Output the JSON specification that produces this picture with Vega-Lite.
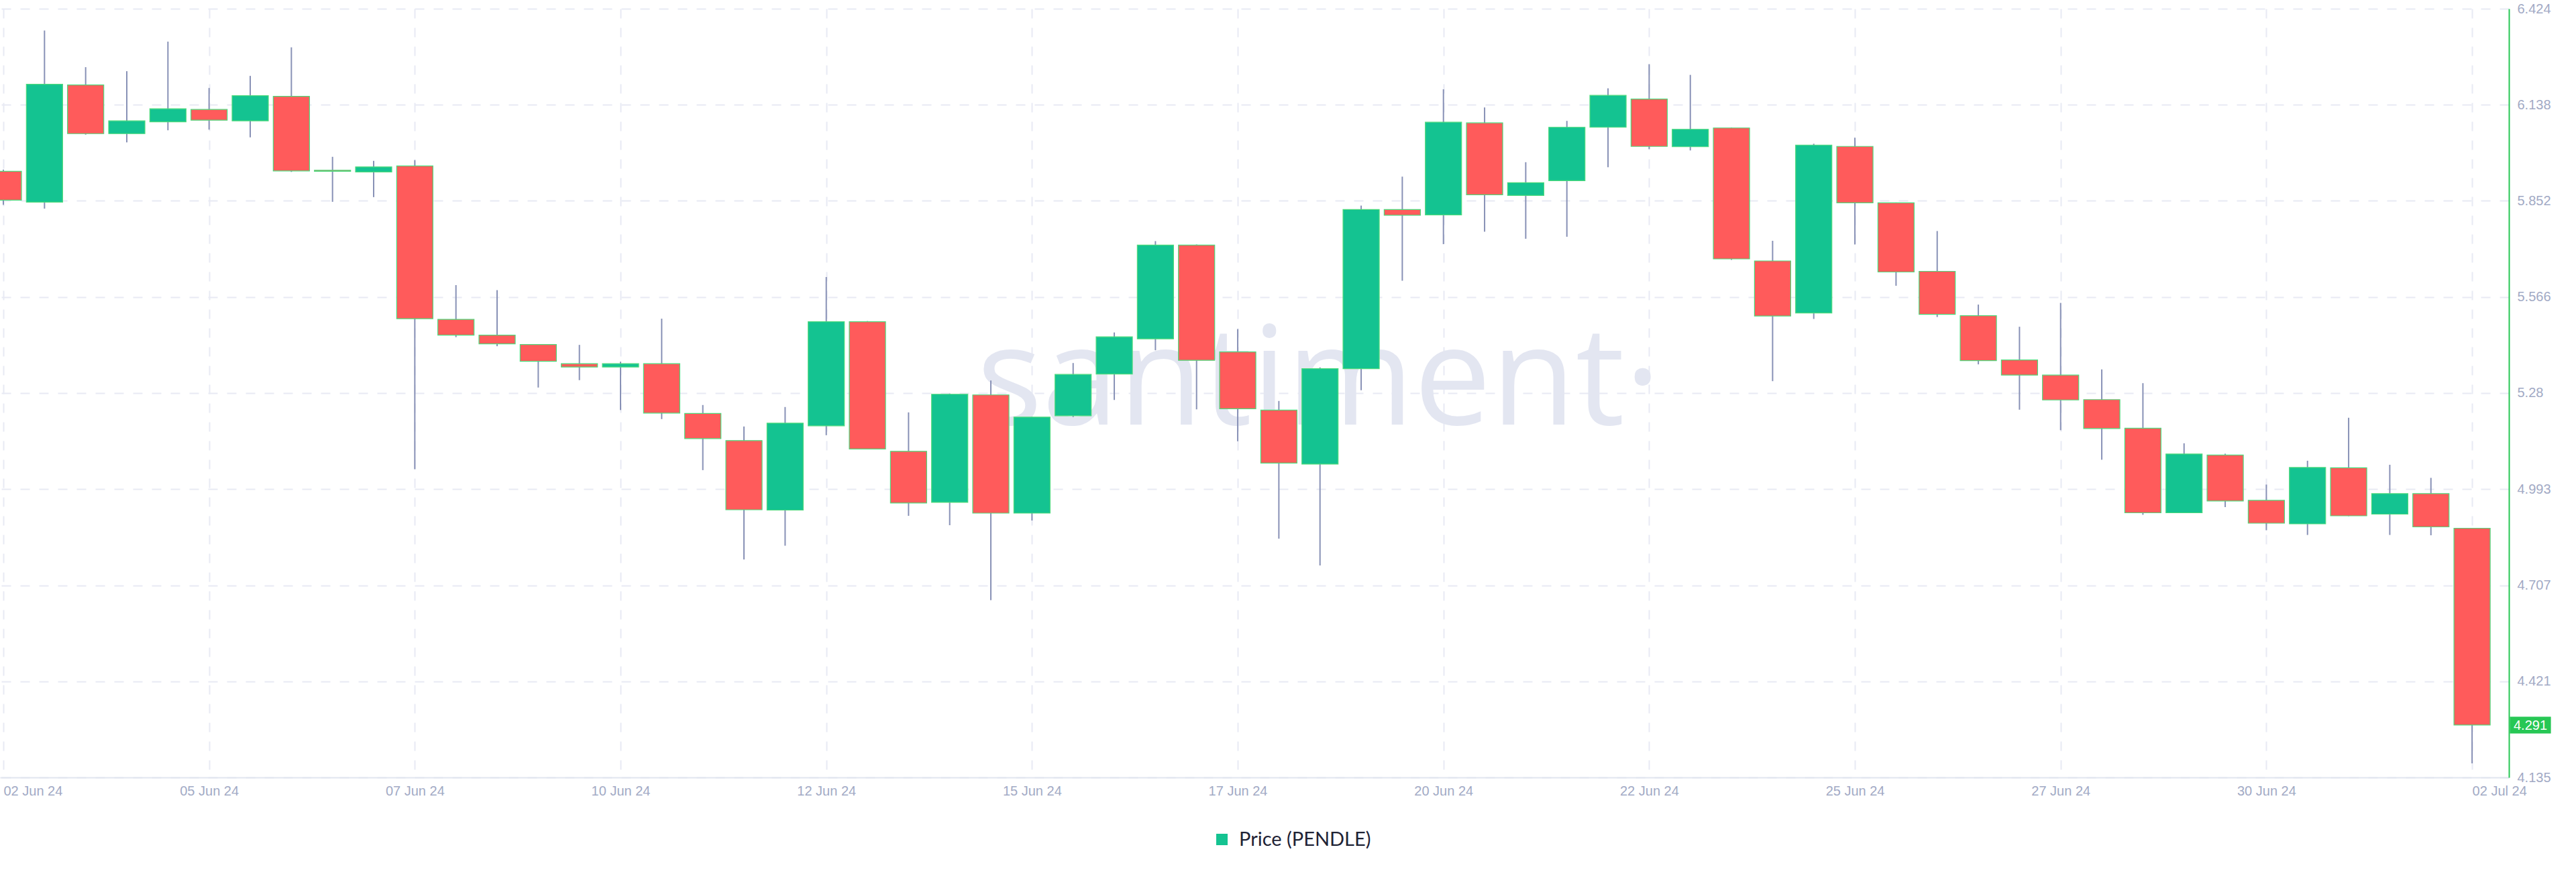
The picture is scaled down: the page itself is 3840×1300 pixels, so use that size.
{
  "$schema": "https://vega.github.io/schema/vega-lite/v6.json",
  "width": 3740,
  "height": 1146,
  "autosize": {"type": "none"},
  "padding": {"left": 0, "top": 13, "right": 100, "bottom": 141},
  "background": "#ffffff",
  "config": {"view": {"stroke": null}},
  "datasets": {
    "candles": [
      {"date": "2024-06-02T12:00:00Z", "open": 5.940, "high": 5.945, "low": 5.840, "close": 5.854},
      {"date": "2024-06-03T00:00:00Z", "open": 5.848, "high": 6.359, "low": 5.829, "close": 6.199},
      {"date": "2024-06-03T12:00:00Z", "open": 6.197, "high": 6.250, "low": 6.049, "close": 6.052},
      {"date": "2024-06-04T00:00:00Z", "open": 6.052, "high": 6.238, "low": 6.026, "close": 6.090},
      {"date": "2024-06-04T12:00:00Z", "open": 6.087, "high": 6.326, "low": 6.062, "close": 6.126},
      {"date": "2024-06-05T00:00:00Z", "open": 6.124, "high": 6.188, "low": 6.064, "close": 6.092},
      {"date": "2024-06-05T12:00:00Z", "open": 6.090, "high": 6.224, "low": 6.041, "close": 6.165},
      {"date": "2024-06-06T00:00:00Z", "open": 6.163, "high": 6.309, "low": 5.938, "close": 5.941},
      {"date": "2024-06-06T12:00:00Z", "open": 5.943, "high": 5.983, "low": 5.849, "close": 5.940},
      {"date": "2024-06-07T00:00:00Z", "open": 5.938, "high": 5.971, "low": 5.863, "close": 5.953},
      {"date": "2024-06-07T12:00:00Z", "open": 5.956, "high": 5.973, "low": 5.053, "close": 5.501},
      {"date": "2024-06-08T00:00:00Z", "open": 5.499, "high": 5.601, "low": 5.446, "close": 5.452},
      {"date": "2024-06-08T12:00:00Z", "open": 5.452, "high": 5.586, "low": 5.419, "close": 5.426},
      {"date": "2024-06-09T00:00:00Z", "open": 5.424, "high": 5.425, "low": 5.296, "close": 5.374},
      {"date": "2024-06-09T12:00:00Z", "open": 5.367, "high": 5.423, "low": 5.318, "close": 5.357},
      {"date": "2024-06-10T00:00:00Z", "open": 5.357, "high": 5.373, "low": 5.229, "close": 5.367},
      {"date": "2024-06-10T12:00:00Z", "open": 5.367, "high": 5.501, "low": 5.202, "close": 5.220},
      {"date": "2024-06-11T00:00:00Z", "open": 5.219, "high": 5.244, "low": 5.050, "close": 5.144},
      {"date": "2024-06-11T12:00:00Z", "open": 5.138, "high": 5.180, "low": 4.784, "close": 4.932},
      {"date": "2024-06-12T00:00:00Z", "open": 4.931, "high": 5.238, "low": 4.825, "close": 5.190},
      {"date": "2024-06-12T12:00:00Z", "open": 5.182, "high": 5.625, "low": 5.154, "close": 5.492},
      {"date": "2024-06-13T00:00:00Z", "open": 5.492, "high": 5.494, "low": 5.112, "close": 5.113},
      {"date": "2024-06-13T12:00:00Z", "open": 5.106, "high": 5.222, "low": 4.914, "close": 4.952},
      {"date": "2024-06-14T00:00:00Z", "open": 4.954, "high": 5.278, "low": 4.886, "close": 5.276},
      {"date": "2024-06-14T12:00:00Z", "open": 5.274, "high": 5.317, "low": 4.663, "close": 4.922},
      {"date": "2024-06-15T00:00:00Z", "open": 4.922, "high": 5.209, "low": 4.900, "close": 5.208},
      {"date": "2024-06-15T12:00:00Z", "open": 5.212, "high": 5.369, "low": 5.208, "close": 5.335},
      {"date": "2024-06-16T00:00:00Z", "open": 5.336, "high": 5.460, "low": 5.259, "close": 5.447},
      {"date": "2024-06-16T12:00:00Z", "open": 5.441, "high": 5.732, "low": 5.407, "close": 5.720},
      {"date": "2024-06-17T00:00:00Z", "open": 5.720, "high": 5.722, "low": 5.231, "close": 5.377},
      {"date": "2024-06-17T12:00:00Z", "open": 5.402, "high": 5.470, "low": 5.136, "close": 5.233},
      {"date": "2024-06-18T00:00:00Z", "open": 5.229, "high": 5.256, "low": 4.846, "close": 5.071},
      {"date": "2024-06-18T12:00:00Z", "open": 5.068, "high": 5.356, "low": 4.766, "close": 5.352},
      {"date": "2024-06-19T00:00:00Z", "open": 5.352, "high": 5.838, "low": 5.288, "close": 5.826},
      {"date": "2024-06-19T12:00:00Z", "open": 5.826, "high": 5.924, "low": 5.614, "close": 5.809},
      {"date": "2024-06-20T00:00:00Z", "open": 5.810, "high": 6.184, "low": 5.723, "close": 6.086},
      {"date": "2024-06-20T12:00:00Z", "open": 6.084, "high": 6.130, "low": 5.760, "close": 5.870},
      {"date": "2024-06-21T00:00:00Z", "open": 5.868, "high": 5.967, "low": 5.739, "close": 5.906},
      {"date": "2024-06-21T12:00:00Z", "open": 5.912, "high": 6.090, "low": 5.745, "close": 6.071},
      {"date": "2024-06-22T00:00:00Z", "open": 6.071, "high": 6.187, "low": 5.952, "close": 6.166},
      {"date": "2024-06-22T12:00:00Z", "open": 6.155, "high": 6.259, "low": 6.006, "close": 6.014},
      {"date": "2024-06-23T00:00:00Z", "open": 6.013, "high": 6.227, "low": 6.002, "close": 6.065},
      {"date": "2024-06-23T12:00:00Z", "open": 6.069, "high": 6.070, "low": 5.676, "close": 5.679},
      {"date": "2024-06-24T00:00:00Z", "open": 5.673, "high": 5.733, "low": 5.315, "close": 5.509},
      {"date": "2024-06-24T12:00:00Z", "open": 5.518, "high": 6.022, "low": 5.500, "close": 6.018},
      {"date": "2024-06-25T00:00:00Z", "open": 6.014, "high": 6.040, "low": 5.722, "close": 5.846},
      {"date": "2024-06-25T12:00:00Z", "open": 5.846, "high": 5.847, "low": 5.599, "close": 5.640},
      {"date": "2024-06-26T00:00:00Z", "open": 5.642, "high": 5.762, "low": 5.506, "close": 5.514},
      {"date": "2024-06-26T12:00:00Z", "open": 5.510, "high": 5.543, "low": 5.365, "close": 5.376},
      {"date": "2024-06-27T00:00:00Z", "open": 5.378, "high": 5.477, "low": 5.230, "close": 5.333},
      {"date": "2024-06-27T12:00:00Z", "open": 5.333, "high": 5.548, "low": 5.169, "close": 5.259},
      {"date": "2024-06-28T00:00:00Z", "open": 5.260, "high": 5.350, "low": 5.081, "close": 5.174},
      {"date": "2024-06-28T12:00:00Z", "open": 5.175, "high": 5.309, "low": 4.917, "close": 4.923},
      {"date": "2024-06-29T00:00:00Z", "open": 4.923, "high": 5.130, "low": 4.922, "close": 5.098},
      {"date": "2024-06-29T12:00:00Z", "open": 5.095, "high": 5.099, "low": 4.940, "close": 4.958},
      {"date": "2024-06-30T00:00:00Z", "open": 4.960, "high": 5.007, "low": 4.871, "close": 4.892},
      {"date": "2024-06-30T12:00:00Z", "open": 4.890, "high": 5.078, "low": 4.857, "close": 5.058},
      {"date": "2024-07-01T00:00:00Z", "open": 5.057, "high": 5.206, "low": 4.913, "close": 4.914},
      {"date": "2024-07-01T12:00:00Z", "open": 4.919, "high": 5.066, "low": 4.857, "close": 4.980},
      {"date": "2024-07-02T00:00:00Z", "open": 4.980, "high": 5.027, "low": 4.856, "close": 4.881},
      {"date": "2024-07-02T12:00:00Z", "open": 4.877, "high": 4.878, "low": 4.177, "close": 4.291}
    ],
    "watermark": [{"label": "santiment·", "date": "2024-06-18T11:37:00Z", "price": 5.186}],
    "lastPrice": [{"date": "2024-07-02T21:46:00Z", "price": 4.291}]
  },
  "layer": [
    {
      "data": {"name": "watermark"},
      "mark": {"type": "text", "font": "Open Sans", "fontWeight": 400, "fontSize": 205, "align": "center", "baseline": "alphabetic", "color": "#e3e6f1"},
      "encoding": {
        "x": {
          "field": "date",
          "type": "temporal",
          "scale": {
            "type": "utc",
            "domain": [
              {"year": 2024, "month": 6, "date": 2, "hours": 12, "utc": true},
              {"year": 2024, "month": 7, "date": 2, "hours": 21, "minutes": 46, "utc": true}
            ],
            "nice": false
          },
          "axis": {
            "title": null,
            "values": [
              {"year": 2024, "month": 6, "date": 2, "hours": 12, "utc": true},
              {"year": 2024, "month": 6, "date": 5, "hours": 0, "utc": true},
              {"year": 2024, "month": 6, "date": 7, "hours": 12, "utc": true},
              {"year": 2024, "month": 6, "date": 10, "hours": 0, "utc": true},
              {"year": 2024, "month": 6, "date": 12, "hours": 12, "utc": true},
              {"year": 2024, "month": 6, "date": 15, "hours": 0, "utc": true},
              {"year": 2024, "month": 6, "date": 17, "hours": 12, "utc": true},
              {"year": 2024, "month": 6, "date": 20, "hours": 0, "utc": true},
              {"year": 2024, "month": 6, "date": 22, "hours": 12, "utc": true},
              {"year": 2024, "month": 6, "date": 25, "hours": 0, "utc": true},
              {"year": 2024, "month": 6, "date": 27, "hours": 12, "utc": true},
              {"year": 2024, "month": 6, "date": 30, "hours": 0, "utc": true},
              {"year": 2024, "month": 7, "date": 2, "hours": 12, "utc": true}
            ],
            "labelExpr": "utcFormat(datum.value, '%d %b %y')",
            "labelFlush": false,
            "labelOverlap": false,
            "labelBound": false,
            "labelAlign": {"condition": {"test": "datum.index == 0 || datum.index == 1", "value": "left"}, "value": "center"},
            "labelFont": "Liberation Sans",
            "labelFontSize": 20,
            "labelColor": "#a2aac5",
            "labelPadding": 10,
            "ticks": false,
            "domainColor": "#e1e5ef",
            "domainWidth": 2,
            "grid": true,
            "gridColor": "#e8eaf4",
            "gridDash": [14, 14],
            "gridWidth": 2
          }
        },
        "y": {
          "field": "price",
          "type": "quantitative",
          "scale": {"domain": [4.135, 6.424], "nice": false, "zero": false},
          "axis": {
            "title": null,
            "orient": "right",
            "values": [4.135, 4.421, 4.707, 4.993, 5.28, 5.566, 5.852, 6.138, 6.424],
            "format": ".3~f",
            "labelFont": "Liberation Sans",
            "labelFontSize": 20,
            "labelColor": "#a2aac5",
            "labelPadding": 12,
            "labelBaseline": "middle",
            "labelOverlap": false,
            "labelFlush": false,
            "ticks": false,
            "domainColor": "#27c755",
            "domainWidth": 2,
            "grid": true,
            "gridColor": "#e8eaf4",
            "gridDash": [14, 14],
            "gridWidth": 2
          }
        },
        "text": {"field": "label"}
      }
    },
    {
      "data": {"name": "candles"},
      "mark": {"type": "rule", "color": "#8891b6", "strokeWidth": 2, "clip": true},
      "encoding": {
        "x": {"field": "date", "type": "temporal"},
        "y": {"field": "low", "type": "quantitative"},
        "y2": {"field": "high"}
      }
    },
    {
      "data": {"name": "candles"},
      "mark": {"type": "bar", "size": 54, "strokeWidth": 1.2, "clip": true},
      "encoding": {
        "x": {"field": "date", "type": "temporal"},
        "y": {"field": "open", "type": "quantitative"},
        "y2": {"field": "close"},
        "fill": {
          "condition": {"test": "datum.close < datum.open", "value": "#ff5b5b"},
          "value": "#14c391"
        },
        "stroke": {
          "datum": "Price (PENDLE)",
          "type": "nominal",
          "scale": {"range": ["#4cd97b"]},
          "legend": {
            "title": null,
            "orient": "none",
            "legendX": 1807,
            "legendY": 1224,
            "padding": 0,
            "symbolType": "square",
            "symbolSize": 289,
            "symbolStrokeWidth": 0,
            "symbolFillColor": "#28c955",
            "labelFont": "Lato",
            "labelFontSize": 29,
            "labelColor": "#1f2335",
            "labelOffset": 11,
            "labelLimit": 500,
            "encode": {"symbols": {"update": {"fill": {"value": "#28c955"}, "stroke": {"value": "#28c955"}, "strokeWidth": {"value": 0}}}}
          }
        }
      }
    },
    {
      "data": {"name": "lastPrice"},
      "mark": {"type": "point", "shape": "M-2.45,-1H2.45V1H-2.45Z", "size": 625, "filled": true, "color": "#27c755", "opacity": 1, "xOffset": 37, "clip": false},
      "encoding": {
        "x": {"field": "date", "type": "temporal"},
        "y": {"field": "price", "type": "quantitative"}
      }
    },
    {
      "data": {"name": "lastPrice"},
      "mark": {"type": "text", "font": "Liberation Sans", "fontSize": 20, "color": "#ffffff", "align": "center", "baseline": "middle", "xOffset": 37, "dy": 1, "clip": false},
      "encoding": {
        "x": {"field": "date", "type": "temporal"},
        "y": {"field": "price", "type": "quantitative"},
        "text": {"field": "price", "type": "quantitative", "format": ".3f"}
      }
    }
  ]
}
